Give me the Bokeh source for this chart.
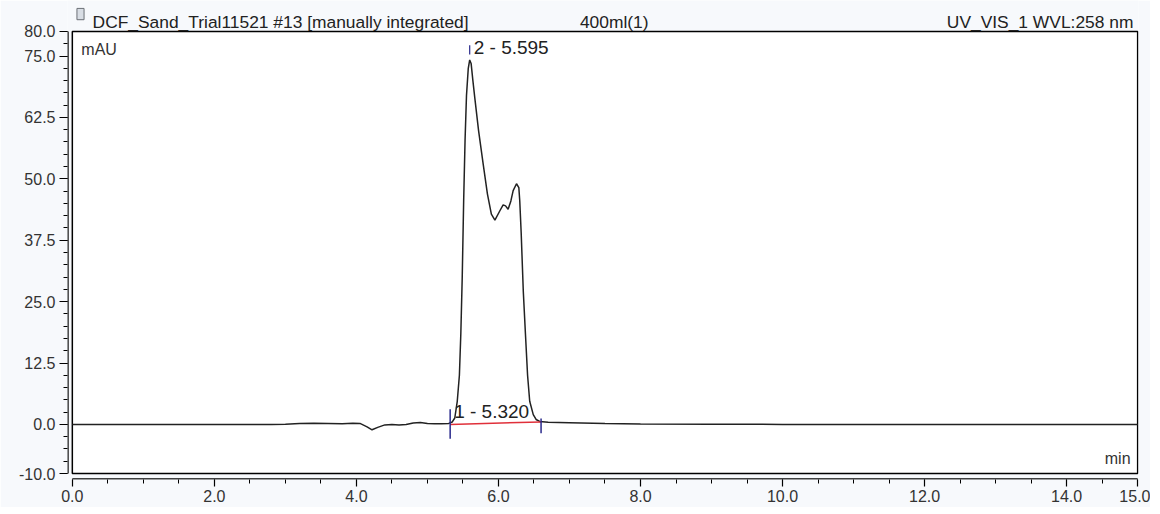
from bokeh.plotting import figure
from bokeh.models import FixedTicker, NumeralTickFormatter, Label, Range1d, ColumnDataSource
from bokeh.embed import file_html
from bokeh.resources import INLINE

# ---- data ----
time_min = [0.0, 1.0, 2.0, 2.8, 3.0, 3.2, 3.4, 3.6, 3.8, 3.95, 4.05, 4.15, 4.22, 4.3, 4.4,
            4.5, 4.6, 4.7, 4.8, 4.9, 5.0, 5.1, 5.2, 5.3, 5.35, 5.385, 5.42, 5.45, 5.47,
            5.49, 5.51, 5.53, 5.55, 5.575, 5.595, 5.615, 5.64, 5.666, 5.72, 5.785, 5.845,
            5.9, 5.95, 6.02, 6.066, 6.1, 6.136, 6.175, 6.207, 6.254, 6.287, 6.30, 6.32,
            6.35, 6.38, 6.41, 6.44, 6.49, 6.53, 6.58, 6.7, 7.0, 7.5, 8.0, 9.0, 10.0, 12.0,
            13.0, 14.0, 15.0]
signal_mau = [0.0, 0.0, 0.0, 0.0, 0.05, 0.2, 0.25, 0.2, 0.15, 0.25, 0.2, -0.5, -1.1, -0.6, -0.1,
              0.0, -0.1, 0.0, 0.3, 0.4, 0.2, 0.15, 0.15, 0.2, 0.5, 1.3, 4.7, 10.0, 18.4,
              30.0, 45.5, 58.0, 67.0, 72.5, 74.2, 73.5, 70.0, 66.6, 59.8, 53.0, 46.9,
              42.8, 41.6, 43.5, 44.7, 44.5, 43.8, 45.5, 47.6, 49.0, 48.2, 45.5, 39.0,
              27.0, 18.4, 10.0, 4.7, 2.0, 1.0, 0.6, 0.45, 0.35, 0.2, 0.1, 0.05, 0.0, 0.0,
              0.0, 0.0, 0.0]

peak_numbers = [1, 2]
peak_times = [5.320, 5.595]
peak_label_y = [2.6, 76.8]
integration_start = 5.32
integration_end = 6.60
baseline_values = [0.0, 0.5]

x_min, x_max = 0.0, 15.0
y_min, y_max = -10.0, 80.0
x_major_ticks = [0, 2, 4, 6, 8, 10, 12, 14, 15]
x_minor_ticks = [i * 0.5 for i in range(31)]
y_major_ticks = [-10, 0, 12.5, 25, 37.5, 50, 62.5, 75, 80]
y_minor_ticks = [-10 + i * 2.5 for i in range(37)]

header_left = "DCF_Sand_Trial11521 #13 [manually integrated]"
header_mid = "400ml(1)"
header_right = "UV_VIS_1 WVL:258 nm"
y_unit = "mAU"
x_unit = "min"

FONT = "Liberation Sans"
PAGE_BG = "#f7f9fc"

# frame extends a few pixels beyond the data box (axes sit slightly apart from the box)
# and upward to hold the header line
xr = Range1d(x_min - 0.068, x_max + 0.012)
yr = Range1d(y_min - 1.22, y_max + 6.31)

p = figure(width=1150, height=507, output_backend="svg", toolbar_location=None,
           x_range=xr, y_range=yr)
p.min_border_left = 67
p.min_border_right = 12
p.min_border_top = 0
p.min_border_bottom = 28
p.background_fill_color = PAGE_BG
p.border_fill_color = PAGE_BG
p.outline_line_color = None
p.grid.visible = False

for ax in (p.xaxis[0], p.yaxis[0]):
    ax.axis_line_color = None
    ax.major_tick_line_color = "black"
    ax.minor_tick_line_color = "black"
    ax.major_tick_line_width = 1.2
    ax.minor_tick_line_width = 1.0
    ax.major_tick_in = 0
    ax.minor_tick_in = 0
    ax.major_label_text_font = FONT
    ax.major_label_text_font_size = "16px"
    ax.major_label_text_color = "#333333"
    ax.formatter = NumeralTickFormatter(format="0.0")

p.xaxis[0].ticker = FixedTicker(ticks=x_major_ticks, minor_ticks=x_minor_ticks)
p.yaxis[0].ticker = FixedTicker(ticks=y_major_ticks, minor_ticks=y_minor_ticks)
p.xaxis[0].major_tick_out = 7
p.xaxis[0].minor_tick_out = 4
p.yaxis[0].major_tick_out = 8
p.yaxis[0].minor_tick_out = 4
p.xaxis[0].major_label_standoff = 3
p.yaxis[0].major_label_standoff = 4

# white data box with black border
p.quad(left=[x_min], right=[x_max], bottom=[y_min], top=[y_max],
       fill_color="white", line_color="black", line_width=1.5)

# axis lines drawn just inside the frame edges, spanning only the data box
p.segment(x0=[xr.start + 0.006], y0=[y_min], x1=[xr.start + 0.006], y1=[y_max],
          line_color="black", line_width=1.5)
p.segment(x0=[x_min], y0=[yr.start + 0.1], x1=[x_max], y1=[yr.start + 0.1],
          line_color="black", line_width=1.5)

src = ColumnDataSource(dict(t=time_min, v=signal_mau))
p.line("t", "v", source=src, line_color="#222222", line_width=1.5)

# integration baseline and delimiters
p.line([integration_start, integration_end], baseline_values, line_color="#e0303a", line_width=1.5)
p.segment(x0=[integration_start, integration_end], y0=[-2.9, -1.8],
          x1=[integration_start, integration_end], y1=[3.1, 1.2],
          line_color="#2a2a8c", line_width=1.5)
# peak apex marker
p.segment(x0=[peak_times[1]], y0=[75.3], x1=[peak_times[1]], y1=[77.2],
          line_color="#2a2a8c", line_width=1.2)

for n, t, ly in zip(peak_numbers, peak_times, peak_label_y):
    p.add_layout(Label(x=t, y=ly, x_offset=4, text=f"{n} - {t:.3f}",
                       text_font=FONT, text_font_size="19px", text_color="#222222",
                       text_baseline="middle", text_align="left"))

p.add_layout(Label(x=0.127, y=76.3, text=y_unit, text_font=FONT, text_font_size="16px",
                   text_color="#333333", text_baseline="middle"))
p.add_layout(Label(x=14.9, y=-7.0, text=x_unit, text_font=FONT, text_font_size="16px",
                   text_color="#333333", text_baseline="middle", text_align="right"))

# header line (above the data box)
hy = 81.95
p.quad(left=[0.065], right=[0.165], bottom=[82.4], top=[84.7],
       fill_color="#d8dde4", line_color="#6b6f76", line_width=1)
p.add_layout(Label(x=0.285, y=hy, text=header_left, text_font=FONT, text_font_size="17.4px",
                   text_color="#222222", text_baseline="middle"))
p.add_layout(Label(x=7.63, y=hy, text=header_mid, text_font=FONT, text_font_size="17.4px",
                   text_color="#222222", text_baseline="middle", text_align="center"))
p.add_layout(Label(x=14.94, y=hy, text=header_right, text_font=FONT, text_font_size="17.4px",
                   text_color="#222222", text_baseline="middle", text_align="right"))

open("out.html", "w").write(file_html(p, INLINE))
